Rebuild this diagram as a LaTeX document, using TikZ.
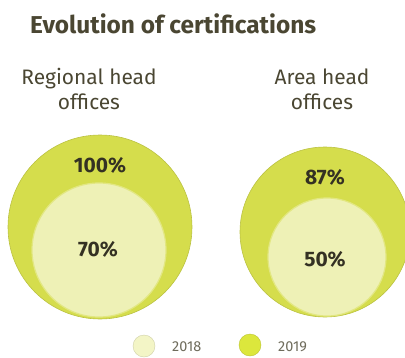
\documentclass[tikz,border=0pt]{standalone}
\usepackage{fontspec}
\setmainfont{Fira Sans}
\definecolor{ringcol}{HTML}{D5DD4C}
\definecolor{corecol}{HTML}{EEF1B6}
\definecolor{txtcol}{HTML}{4A4632}
\definecolor{leg18}{HTML}{F3F5C6}
\definecolor{leg19}{HTML}{DCE73C}

\begin{document}
\begin{tikzpicture}[x=1bp, y=-1bp,
        ring/.style={fill=ringcol, draw=ringcol!80!black!60!ringcol, line width=0.6bp},
        core/.style={fill=corecol, draw=ringcol!70!white, line width=1.2bp},
        pct/.style={font=\bfseries\fontsize{21}{21}\selectfont, text=txtcol!70!black},
        head/.style={font=\fontsize{21}{25}\selectfont, text=txtcol, align=center},
        legtxt/.style={font=\fontsize{14.5}{14.5}\selectfont, text=txtcol!80, anchor=west}]
        \useasboundingbox (0, 0) rectangle (405, 358);
        \node[anchor=west, font=\bfseries\fontsize{24.5}{24.5}\selectfont, text=txtcol, inner sep=0] (title) at (30, 24) {Evolution of certifications};
        \node[head] (reghead) at (89, 89) {Regional head\\offices};
        \node[head] (areahead) at (322, 89) {Area head\\offices};
        % regional head offices
        \draw[ring] (100, 227) circle (92);
        \draw[core] (99, 250) circle (67);
        \node[pct] (reg19) at (100, 165) {100\%};
        \node[pct] (reg18) at (98, 249) {70\%};
        % area head offices
        \draw[ring] (325, 232) circle (85);
        \draw[core] (327, 257) circle (59);
        \node[pct] (area19) at (325, 177) {87\%};
        \node[pct] (area18) at (325, 259) {50\%};
        % legend
        \draw[fill=leg18, draw=leg18!85!black] (144, 346) circle (11);
        \node[legtxt, inner sep=0] (l18) at (172, 347) {2018};
        \draw[fill=leg19, draw=leg19!85!black] (250, 345) circle (11);
        \node[legtxt, inner sep=0] (l19) at (278, 347) {2019};
    \end{tikzpicture}
\end{document}
